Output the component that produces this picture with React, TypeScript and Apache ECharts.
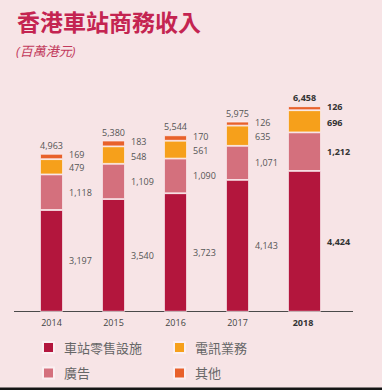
import React, { useEffect, useRef } from "react";
import * as echarts from "echarts";

const categories = ["2014", "2015", "2016", "2017", "2018"];
const retail = [3197, 3540, 3723, 4143, 4424];
const advert = [1118, 1109, 1090, 1071, 1212];
const telecom = [479, 548, 561, 635, 696];
const other = [169, 183, 170, 126, 126];
const totals = [4963, 5380, 5544, 5975, 6458];

const names = ["車站零售設施", "廣告", "電訊業務", "其他"];
const colors = ["#b3163d", "#d4707d", "#f6a01b", "#e8612b"];
const valuesList = [retail, advert, telecom, other];
const labelNudge = [0, 0, 1, -1.5];

const FONT = "'Open Sans', 'Noto Sans CJK TC', sans-serif";
const BG = "#f7e4e6";
const LAST = categories.length - 1;

const fmt = (v: number) => Number(v).toLocaleString("en-US");

function buildSeries() {
  const series: any[] = [];
  // stack "b": highlighted last year (wider bar), stack "a": other years
  const groups = [
    { stack: "b", width: 33, bold: true, pick: (i: number) => i === LAST },
    { stack: "a", width: 23, bold: false, pick: (i: number) => i !== LAST },
  ];
  groups.forEach((g) => {
    valuesList.forEach((vals, k) => {
      series.push({
        type: "bar",
        name: names[k],
        stack: g.stack,
        barWidth: g.width,
        barGap: "-100%",
        data: vals.map((v, i) => (g.pick(i) ? v : "-")),
        itemStyle: { color: colors[k], borderColor: "#fbeff1", borderWidth: 0.8 },
        label: {
          show: true,
          position: "right",
          distance: 6,
          offset: [0, labelNudge[k]],
          fontFamily: FONT,
          fontSize: 9,
          lineHeight: 9,
          fontWeight: g.bold ? "bold" : "normal",
          color: g.bold ? "#333" : "#555",
          formatter: (p: any) => fmt(p.value),
        },
      });
    });
    series.push({
      type: "bar",
      name: "total-" + g.stack,
      stack: g.stack,
      barWidth: g.width,
      barGap: "-100%",
      data: totals.map((v, i) => (g.pick(i) ? 0 : "-")),
      itemStyle: { color: "rgba(0,0,0,0)" },
      label: {
        show: true,
        position: "top",
        distance: 4,
        fontFamily: FONT,
        fontSize: 9,
        lineHeight: 9,
        fontWeight: g.bold ? "bold" : "normal",
        color: g.bold ? "#333" : "#555",
        formatter: (p: any) => fmt(totals[p.dataIndex]),
      },
    });
  });
  return series;
}

export default function App() {
  const ref = useRef<HTMLDivElement>(null);
  useEffect(() => {
    if (!ref.current) return;
    const chart = echarts.init(ref.current, null, { renderer: "svg" });
    const legendCommon = {
      orient: "vertical",
      top: 341,
      height: 60,
      padding: 0,
      itemWidth: 11,
      itemHeight: 11,
      itemGap: 12.5,
      icon: "rect",
      textStyle: { fontFamily: FONT, fontSize: 13, lineHeight: 11, color: "#666", padding: [0, 0, 0, 5] },
    };
    chart.setOption({
      animation: false,
      backgroundColor: BG,
      grid: { left: 20.5, width: 310, top: 89, height: 222.7 },
      xAxis: {
        type: "category",
        data: categories,
        axisLine: { show: false },
        axisTick: { show: false },
        axisLabel: {
          margin: 6,
          fontFamily: FONT,
          fontSize: 9,
          color: "#444",
          formatter: (v: string, i: number) => (i === LAST ? "{b|" + v + "}" : v),
          rich: { b: { fontFamily: FONT, fontSize: 9, fontWeight: "bold", color: "#333", padding: [0, 0, 0, 7] } },
        },
      },
      yAxis: { type: "value", min: 0, max: 7000, show: false, splitLine: { show: false } },
      legend: [
        { ...legendCommon, left: 42, data: ["車站零售設施", "廣告"] },
        { ...legendCommon, left: 173, data: ["電訊業務", "其他"] },
      ],
      graphic: [
        {
          type: "text",
          left: 17,
          top: 10,
          style: { text: "香港車站商務收入", fontFamily: FONT, fontSize: 23, fontWeight: "bold", fill: "#c42451" },
        },
        {
          type: "text",
          left: 16,
          top: 44,
          style: { text: "(百萬港元)", fontFamily: FONT, fontSize: 13, fontStyle: "italic", fill: "#c23a5c" },
        },
        {
          type: "line",
          shape: { x1: 14, y1: 311.5, x2: 353, y2: 311.5 },
          style: { stroke: "#4a4a4a", lineWidth: 1 },
        },
        {
          type: "rect",
          shape: { x: 0, y: 387.5, width: 382, height: 3 },
          style: { fill: "#151515" },
        },
      ],
      series: buildSeries(),
    });
    return () => chart.dispose();
  }, []);
  return <div ref={ref} style={{ position: "fixed", left: 0, top: 0, width: 382, height: 390 }} />;
}
